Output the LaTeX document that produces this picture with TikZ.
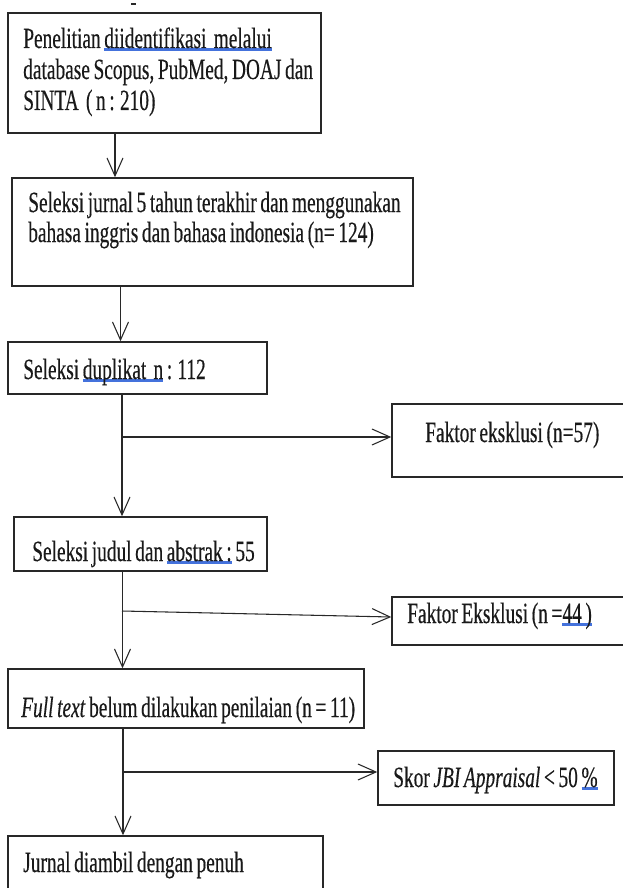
\documentclass[tikz,border=0pt]{standalone}
\usepackage{fontspec}
\setmainfont[FakeStretch=0.66,WordSpace=0.75,FakeBold=0.4]{Liberation Serif}
\usetikzlibrary{arrows.meta,fit}
\definecolor{ulblue}{RGB}{68,114,220}
\definecolor{ink}{RGB}{40,40,40}
\newcommand\blu[1]{\setbox0\hbox{#1}\rlap{\color{ulblue}\rule[-2.4pt]{\wd0}{2.2pt}}\box0\relax}
\tikzset{
  bx/.style={draw=ink, line width=1.1pt, inner sep=0pt},
  tx/.style={inner sep=0pt, anchor=base west, text=black!90, font=\fontsize{22pt}{26pt}\selectfont},
  arr/.style={draw=ink, line width=0.8pt, -{Straight Barb[length=13.5pt,width=12pt,line width=0.8pt]}},
  ln/.style={draw=ink, line width=0.8pt}
}
\begin{document}
\begin{tikzpicture}[x=0.75pt,y=-0.75pt]
\useasboundingbox (0,0) rectangle (623,888);
% boxes
\node[bx, fit={(8,13)(321,133)}] (b1) {};
\node[bx, fit={(12,178)(413,286)}] (b2) {};
\node[bx, fit={(8,342)(267,394)}] (b3) {};
\node[bx, fit={(392,404)(626,477)}] (b5) {};
\node[bx, fit={(14,517)(267,571)}] (b4) {};
\node[bx, fit={(392,597)(626,645)}] (b6) {};
\node[bx, fit={(8,669)(364,728)}] (b7) {};
\node[bx, fit={(378,751)(614,805)}] (b9) {};
\node[bx, fit={(8,836)(323,893)}] (b8) {};
% texts
\node[tx] (t1a) at (23,48) {Penelitian \blu{diidentifikasi\ \ melalui}};
\node[tx] (t1b) at (23,79) {database Scopus, PubMed, DOAJ dan};
\node[tx] (t1c) at (23,110) {SINTA\ \ ( n : 210)};
\node[tx] (t2a) at (28,212) {Seleksi jurnal 5 tahun terakhir dan menggunakan};
\node[tx] (t2b) at (28,242) {bahasa inggris dan bahasa indonesia (n= 124)};
\node[tx] (t3) at (23,379) {Seleksi \blu{duplikat\ \ n} : 112};
\node[tx] (t5) at (425,442) {Faktor eksklusi (n=57)};
\node[tx] (t4) at (32,561) {Seleksi judul dan \blu{abstrak :} 55};
\node[tx] (t6) at (407,623) {Faktor Eksklusi (n =\blu{44 )}};
\node[tx] (t7) at (21,717) {\textit{Full text} belum dilakukan penilaian (n = 11)};
\node[tx] (t9) at (393,787) {Skor \textit{JBI Appraisal} < 50 \blu{\%}};
\node[tx] (t8) at (23,872) {Jurnal diambil dengan penuh};
% stray mark at top
\draw[ink, line width=1.5pt] (131,4) -- (136,4);
% x positions of the main line
\coordinate (x1) at (115,0);
\coordinate (x2) at (120.5,0);
\coordinate (x3) at (122,0);
\coordinate (x4) at (122.5,0);
\coordinate (x5) at (123,0);
% vertical connectors
\draw[arr] (b1.south -| x1) -- (b2.north -| x1);
\draw[arr] (b2.south -| x2) -- (b3.north -| x2);
\draw[arr] (b3.south -| x3) -- (b4.north -| x3);
\draw[arr] (b4.south -| x4) -- (b7.north -| x4);
\draw[arr] (b7.south -| x5) -- (b8.north -| x5);
% side branches
\coordinate (j1) at (122,437);
\coordinate (j2) at (122,611);
\coordinate (e2) at (0,617);
\coordinate (j3) at (123,772);
\draw[arr] (j1) -- (b5.west |- j1);
\draw[arr] (j2) -- (b6.west |- e2);
\draw[arr] (j3) -- (b9.west |- j3);
\end{tikzpicture}
\end{document}
